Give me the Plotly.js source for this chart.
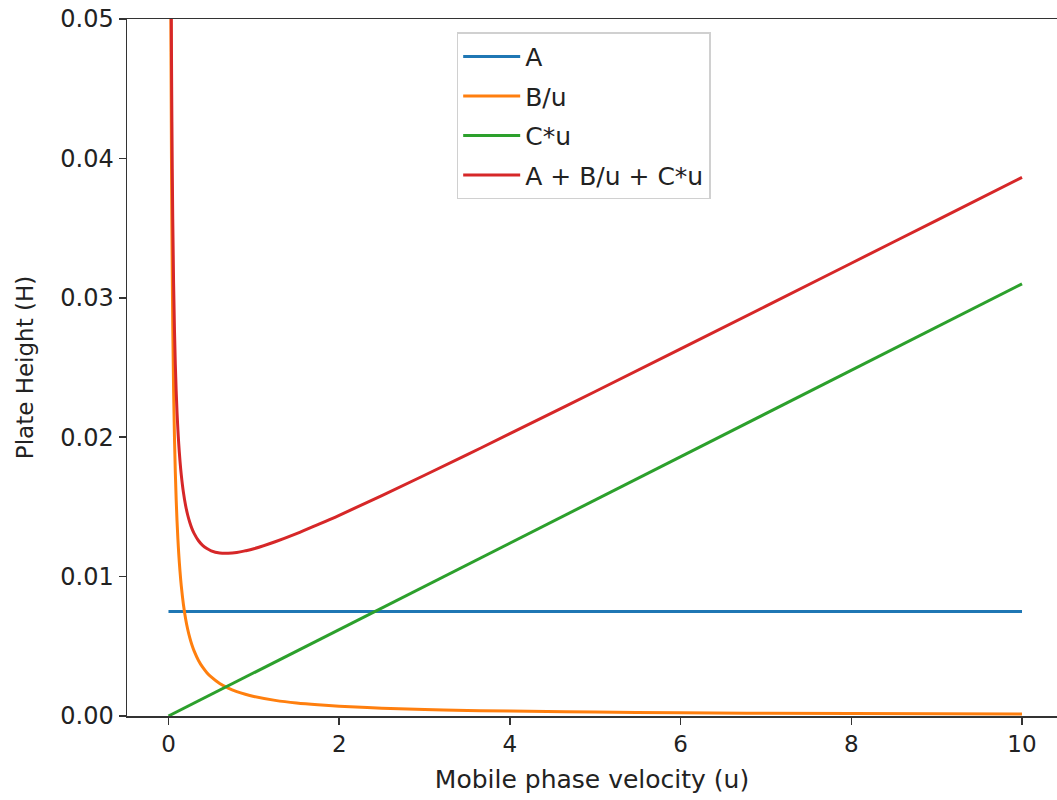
<!DOCTYPE html>
<html>
<head>
<meta charset="utf-8">
<script src="https://cdn.plot.ly/plotly-3.0.1.min.js"></script>
<style>
  html, body { margin: 0; padding: 0; background: #ffffff; }
  #chart { width: 1057px; height: 800px; }
</style>
</head>
<body>
<div id="chart"></div>
<script>
// Van Deemter terms: plate height H against mobile phase velocity u
const velocity = [0.01, 0.02, 0.025, 0.03, 0.035, 0.04, 0.05, 0.06, 0.07, 0.08, 0.09, 0.1, 0.11, 0.12, 0.135,
                  0.15, 0.175, 0.2, 0.225, 0.25, 0.275, 0.3, 0.35, 0.4, 0.45, 0.5, 0.6, 0.7, 0.8, 0.9, 1, 1.25,
                  1.5, 1.75, 2, 2.5, 3, 3.5, 4, 5, 6, 7, 8, 9, 10];

const termB = [0.14, 0.07, 0.056, 0.04667, 0.04, 0.035, 0.028, 0.02333, 0.02, 0.0175, 0.01556, 0.014,
               0.01273, 0.01167, 0.01037, 0.00933, 0.008, 0.007, 0.00622, 0.0056, 0.00509, 0.00467, 0.004,
               0.0035, 0.00311, 0.0028, 0.00233, 0.002, 0.00175, 0.001556, 0.0014, 0.00112, 0.00093, 0.0008,
               0.0007, 0.00056, 0.00047, 0.0004, 0.00035, 0.00028, 0.00023, 0.0002, 0.000175, 0.000156, 0.00014];

const totalH = [0.14753, 0.07756, 0.06358, 0.05426, 0.04761, 0.04262, 0.03566, 0.03102, 0.02772, 0.02525,
                0.02334, 0.02181, 0.02057, 0.01954, 0.01829, 0.0173, 0.01604, 0.01512, 0.01442, 0.01388,
                0.01344, 0.0131, 0.01259, 0.01224, 0.01201, 0.01185, 0.01169, 0.01167, 0.01173, 0.01185,
                0.012, 0.0125, 0.01308, 0.01373, 0.0144, 0.01581, 0.01727, 0.01875, 0.02025, 0.02328,
                0.02633, 0.0294, 0.03248, 0.03556, 0.03864];

// the linear terms start at u = 0
const lineU = [0, 10];
const termA = [0.0075, 0.0075];
const termC = [0, 0.031];

const seriesNames = ['A', 'B/u', 'C*u', 'A + B/u + C*u'];
const xTicks = [0, 2, 4, 6, 8, 10];
const yTicks = [0, 0.01, 0.02, 0.03, 0.04, 0.05];

const colors = ['#1f77b4', '#ff7f0e', '#2ca02c', '#d62728'];
const font = 'DejaVu Sans, sans-serif';

const traces = [
  { x: lineU, y: termA, name: seriesNames[0] },
  { x: velocity, y: termB, name: seriesNames[1], shape: 'spline' },
  { x: lineU, y: termC, name: seriesNames[2] },
  { x: velocity, y: totalH, name: seriesNames[3], shape: 'spline' }
].map((t, i) => ({
  type: 'scatter',
  mode: 'lines',
  x: t.x,
  y: t.y,
  name: t.name,
  legendgroup: 'g' + i,
  line: { color: colors[i], width: 3, shape: t.shape || 'linear', smoothing: 1 },
  hoverinfo: 'x+y+name'
}));

const layout = {
  width: 1057,
  height: 800,
  paper_bgcolor: '#ffffff',
  plot_bgcolor: '#ffffff',
  margin: { l: 127, r: 0, t: 19, b: 84, pad: 0 },
  font: { family: font, color: '#222222' },
  showlegend: true,
  legend: {
    x: 0.3545, y: 0.981, xanchor: 'left', yanchor: 'top',
    bgcolor: 'rgba(255,255,255,0.85)',
    bordercolor: '#d0d0d0',
    borderwidth: 1.5,
    font: { family: font, size: 25, color: '#222222' },
    traceorder: 'grouped',
    tracegroupgap: 4,
    itemwidth: 57
  },
  xaxis: {
    range: [-0.486, 10.41],
    tickvals: xTicks,
    ticktext: xTicks.map(String),
    ticks: 'outside', ticklen: 7, tickwidth: 1.5, tickcolor: '#333333',
    showline: true, linecolor: '#333333', linewidth: 1.5, mirror: true,
    showgrid: false, zeroline: false,
    tickfont: { family: font, size: 23, color: '#222222' },
    title: { text: 'Mobile phase velocity (u)', font: { family: font, size: 25, color: '#222222' }, standoff: 14 }
  },
  yaxis: {
    range: [0, 0.05],
    tickvals: yTicks,
    ticktext: yTicks.map(v => v.toFixed(2)),
    ticks: 'outside', ticklen: 7, tickwidth: 1.5, tickcolor: '#333333',
    showline: true, linecolor: '#333333', linewidth: 1.5, mirror: false,
    showgrid: false, zeroline: false,
    tickfont: { family: font, size: 24, color: '#222222' },
    title: { text: 'Plate Height (H)', font: { family: font, size: 23, color: '#222222' }, standoff: 20 }
  }
};

Plotly.newPlot('chart', traces, layout, { displayModeBar: false, staticPlot: true });
</script>
</body>
</html>
